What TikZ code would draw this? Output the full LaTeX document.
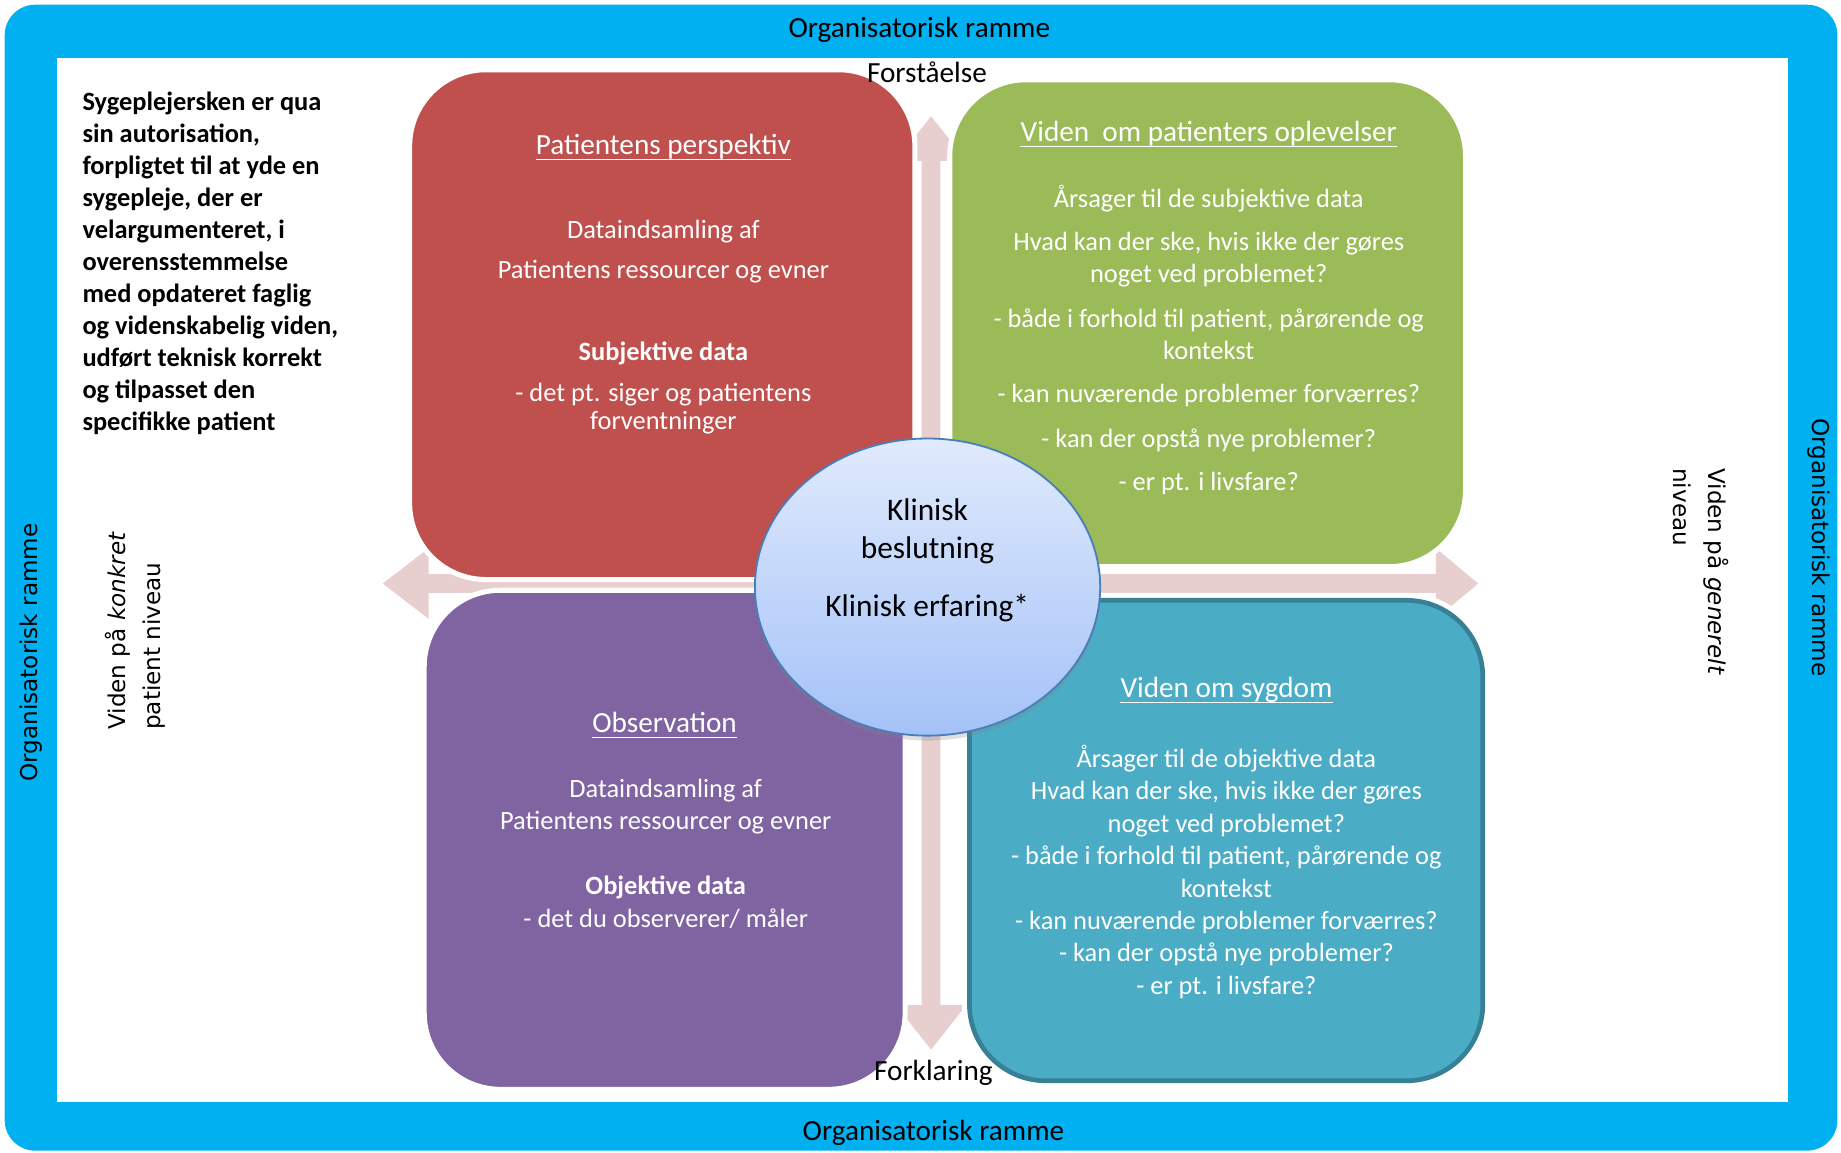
\documentclass[tikz,border=0pt]{standalone}
\usepackage{fontspec}
\setmainfont{Carlito}
\newfontfamily\sidefont{DejaVu Sans}
\usetikzlibrary{shapes.geometric}
\usetikzlibrary{shadows}

\definecolor{frameblue}{RGB}{0,176,240}
\definecolor{redbox}{RGB}{192,80,77}
\definecolor{greenbox}{RGB}{155,187,89}
\definecolor{purplebox}{RGB}{128,100,162}
\definecolor{tealbox}{RGB}{75,172,198}
\definecolor{tealedge}{RGB}{55,128,150}
\definecolor{arrowpink}{RGB}{231,207,207}
\definecolor{coretop}{RGB}{224,234,252}
\definecolor{corebottom}{RGB}{164,194,248}
\definecolor{coreedge}{RGB}{74,126,187}

\begin{document}
\begin{tikzpicture}[x=0.025cm, y=-0.025cm,
    quad/.style={draw=white, line width=0.1075cm, rounded corners=1.625cm},
    intxt/.style={text=white, anchor=base, inner sep=0pt, font=\fontsize{16}{19}\selectfont},
    ttl/.style={intxt, font=\fontsize{17.7}{21}\selectfont},
    uline/.style={white, line width=0.6pt},
    label/.style={anchor=base, inner sep=0pt, font=\fontsize{17.7}{21}\selectfont},
    coretxt/.style={anchor=base, inner sep=0pt, font=\fontsize{19}{23}\selectfont},
    side/.style={inner sep=0pt, align=left, font={\sidefont\fontsize{14}{21.3}\selectfont}}]
    \path[use as bounding box] (0,0) rectangle (1568,982);
    % Frame.
    \fill[frameblue, rounded corners=0.65cm] (4,4) rectangle (1565,980);
    \fill[white] (48.5,49.5) rectangle (1523,938.5);
    \node[label] (top) at (783,32) {Organisatorisk ramme};
    \node[label] (bottom) at (795,971) {Organisatorisk ramme};
    \node[side, rotate=90, anchor=base west] (left) at (31.8,666) {Organisatorisk ramme};
    \node[side, rotate=-90, anchor=base west] (right) at (1544,356) {Organisatorisk ramme};
    \node[side, rotate=90, anchor=north west] (concrete) at (89,621.8) {Viden på \textit{konkret}\\patient niveau};
    \node[side, rotate=-90, anchor=north west] (general) at (1473,398.6) {Viden på \textit{generelt}\\niveau};
    % Duty.
    \node[anchor=north west, inner sep=0pt, align=left, font=\bfseries\fontsize{16}{19.4}\selectfont] (duty) at (70,78.2)
      {Sygeplejersken er qua\\sin autorisation,\\forpligtet til at yde en\\sygepleje, der er\\velargumenteret, i\\overensstemmelse\\med opdateret faglig\\og videnskabelig viden,\\udført teknisk korrekt\\og tilpasset den\\specifikke patient};
    % Axes.
    \fill[arrowpink] (326,497) -- (365,467) -- (365,489) -- (1223,489) -- (1223,467) -- (1259,497)
      -- (1223,527) -- (1223,505) -- (365,505) -- (365,527) -- cycle;
    \fill[arrowpink] (793,99) -- (823,137) -- (801,137) -- (801,856) -- (823,856) -- (793,894)
      -- (763,856) -- (785,856) -- (785,137) -- (763,137) -- cycle;
    % Quadrants.
    \draw[quad, fill=redbox] (348.9,59.4) rectangle (779.2,493.6);
    \draw[quad, fill=greenbox] (808.9,67.9) rectangle (1248.2,482.6);
    \draw[quad, fill=purplebox] (361.3,502.7) rectangle (770.9,927.8);
    \draw[white, line width=0.315cm, rounded corners=1.625cm] (825.7,511.3) rectangle (1262.9,920.5);
    \draw[fill=tealbox, draw=tealedge, line width=0.1cm, rounded corners=1.625cm] (825.7,511.3) rectangle (1262.9,920.5);
    \node[label] (up) at (789.5,70.5) {Forståelse};
    \node[label] (down) at (795,920) {Forklaring};
    % Red.
    \node[ttl] (rt) at (565,131.7) {Patientens perspektiv};
    \draw[uline] ([yshift=-2.7pt]rt.base west) -- ([yshift=-2.7pt]rt.base east);
    \node[intxt] (r1) at (565,203) {Dataindsamling af};
    \node[intxt] (r2) at (565,237) {Patientens ressourcer og evner};
    \node[intxt] (r3) at (565,307) {\bfseries Subjektive data};
    \node[intxt] (r4) at (565,342) {- det pt. siger og patientens};
    \node[intxt] (r5) at (565,365.5) {forventninger};
    % Green.
    \node[ttl] (gt) at (1029.5,120.7) {Viden~ om patienters oplevelser};
    \draw[uline] ([yshift=-2.7pt]gt.base west) -- ([yshift=-2.7pt]gt.base east);
    \foreach \y/\t [count=\i] in {176.5/{Årsager til de subjektive data},
        213.3/{Hvad kan der ske, hvis ikke der gøres}, 241/{noget ved problemet?},
        278.9/{- både i forhold til patient, pårørende og}, 306.3/{kontekst},
        342.9/{- kan nuværende problemer forværres?}, 381.3/{- kan der opstå nye problemer?},
        417.5/{- er pt. i livsfare?}}
      \node[intxt] (g\i) at (1029.5,\y) {\t};
    % Purple.
    \node[ttl] (pt) at (566,624) {Observation};
    \draw[uline] ([yshift=-2.7pt]pt.base west) -- ([yshift=-2.7pt]pt.base east);
    \node[intxt] (p1) at (567,679.3) {Dataindsamling af};
    \node[intxt] (p2) at (567,706.6) {Patientens ressourcer og evner};
    \node[intxt] (p3) at (567,762) {\bfseries Objektive data};
    \node[intxt] (p4) at (567,790.2) {- det du observerer/ måler};
    % Teal.
    \node[ttl] (tt) at (1044.6,594.1) {Viden om sygdom};
    \draw[uline] ([yshift=-2.7pt]tt.base west) -- ([yshift=-2.7pt]tt.base east);
    \foreach \y/\t [count=\i] in {653.3/{Årsager til de objektive data},
        681/{Hvad kan der ske, hvis ikke der gøres}, 708.8/{noget ved problemet?},
        736.6/{- både i forhold til patient, pårørende og}, 764.2/{kontekst},
        791.7/{- kan nuværende problemer forværres?}, 819/{- kan der opstå nye problemer?},
        846.6/{- er pt. i livsfare?}}
      \node[intxt] (t\i) at (1044.5,\y) {\t};
    % Core.
    \node[ellipse, minimum width=7.35cm, minimum height=6.325cm, draw=coreedge, line width=1.1pt,
      top color=coretop, bottom color=corebottom,
      drop shadow={shadow xshift=0pt, shadow yshift=-3pt, opacity=0.25}] (core) at (790,500) {};
    \node[coretxt] (k1) at (790,443) {Klinisk};
    \node[coretxt] (k2) at (790,475.6) {beslutning};
    \node[coretxt] (k3) at (789.7,524.7) {Klinisk erfaring*};
\end{tikzpicture}
\end{document}
